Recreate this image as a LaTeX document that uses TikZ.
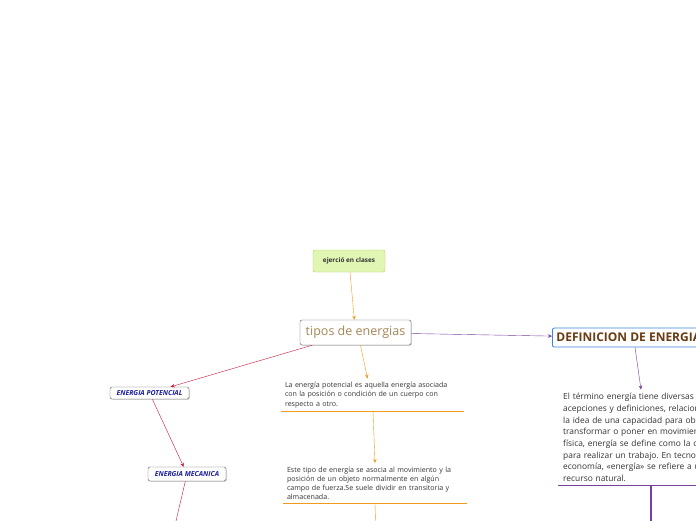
\documentclass[tikz,border=0pt]{standalone}
\usepackage{fontspec}
\setmainfont{Open Sans}
\usetikzlibrary{arrows.meta,positioning,shadows}
\definecolor{naranja}{HTML}{F29A1B}
\definecolor{rojo}{HTML}{C8173A}
\definecolor{morado}{HTML}{7B3F9E}
\definecolor{verdeb}{HTML}{A9D34E}
\definecolor{verdef}{HTML}{E2F6B4}
\definecolor{azulb}{HTML}{3C86D9}
\definecolor{cafe}{HTML}{A58655}
\definecolor{cafeosc}{HTML}{6A3B12}
\definecolor{azult}{HTML}{1C1C9E}
\frenchspacing

\begin{document}
\begin{tikzpicture}[x=1pt, y=-1pt, >={Stealth[length=4pt,width=3.5pt]},
  caja/.style={draw, rounded corners=2pt, align=center, inner sep=2pt, fill=white},
  sombra/.style={drop shadow={shadow xshift=0.8pt, shadow yshift=-0.8pt, fill=black!35}},
  tema/.style={caja, sombra, draw=black!65, inner sep=1pt, font=\bfseries\itshape\fontsize{6.9}{8}\selectfont, text=azult},
  texto/.style={align=left, inner xsep=4pt, inner ysep=3.5pt, font=\fontsize{7.1}{9.25}\selectfont, text=black!80},
  raya/.style={line width=1.1pt}]
\clip (0,0) rectangle (696,520);
\fill[white] (0,0) rectangle (696,520);
% nodos principales
\node[caja, draw=verdeb, fill=verdef, minimum width=72, minimum height=22,
  font=\bfseries\fontsize{6.4}{8}\selectfont, text=black!80] (clase) at (349,261) {ejerció en clases};
\node[caja, sombra, draw=black!65, minimum width=111, minimum height=25,
  font=\fontsize{12.5}{14}\selectfont, text=cafe] (tipos) at (355.5,332.5) {tipos de energias};
\node[caja, draw=azulb, line width=0.8pt, anchor=west, minimum height=19, inner xsep=4pt, inner ysep=1pt,
  font=\bfseries\fontsize{12}{13}\selectfont, text=cafeosc] (def) at (552,337.5) {DEFINICION DE ENERGIA};
\node[tema, minimum width=79, minimum height=12] (pot) at (149.5,393) {ENERGIA POTENCIAL};
\node[tema, minimum width=78, minimum height=14] (mec) at (187,474) {ENERGIA MECANICA};
% textos
\node[texto, text width=175, anchor=north] (p1) at (372.5,378.5)
  {La energía potencial es aquella energía asociada\\con la posición o condición de un cuerpo con\\respecto a otro.};
\node[texto, text width=176, anchor=north] (p2) at (375,463)
  {Este tipo de energía se asocia al movimiento y la\\posición de un objeto normalmente en algún\\campo de fuerza.Se suele dividir en transitoria y\\almacenada.};
\node[texto, text width=190, anchor=north west, inner xsep=5pt, font=\fontsize{8.4}{11.7}\selectfont] (dtext) at (558,389.5)
  {El término energía tiene diversas\\acepciones y definiciones, relacionadas con\\la idea de una capacidad para obrar, surgir,\\transformar o poner en movimiento. En\\física, energía se define como la capacidad\\para realizar un trabajo. En tecnología y\\economía, «energía» se refiere a un\\recurso natural.};
\coordinate (mfin) at (176,521);
\coordinate (p2fin) at (375.5,521);
\coordinate (dfin) at (651,521);
% conectores
\draw[naranja, ->] (clase) -- (tipos);
\draw[morado, ->] (tipos) -- (def);
\draw[morado, ->] ([xshift=83]def.south west) -- ([xshift=83]dtext.north west);
\draw[morado, raya] (dtext.south west) -- (dtext.south east);
\draw[morado, raya] (dtext.south -| dfin) -- (dfin);
\draw[rojo, ->] (tipos) -- (pot);
\draw[rojo, ->] (pot) -- (mec);
\draw[rojo] (mec) -- (mfin);
\draw[naranja, ->] ([xshift=5]tipos.south) -- ([xshift=-5]p1.north);
\draw[naranja, raya] (p1.south west) -- (p1.south east);
\draw[naranja, ->] ([xshift=0.5]p1.south) -- (p2.north);
\draw[naranja, raya] (p2.south west) -- (p2.south east);
\draw[naranja] (p2.south) -- (p2fin);
\end{tikzpicture}
\end{document}
